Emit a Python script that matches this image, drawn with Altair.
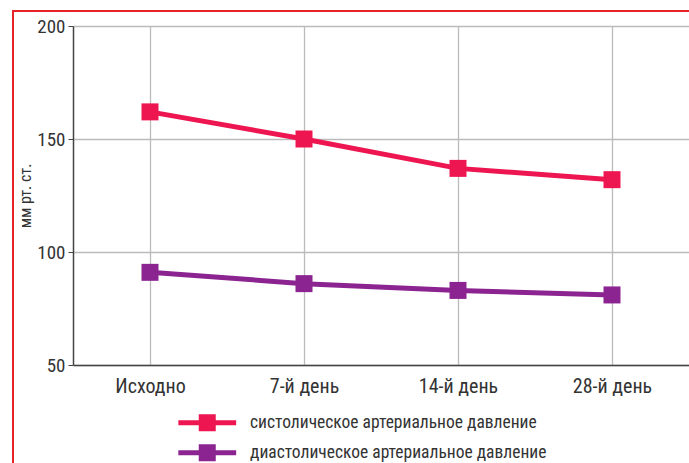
import altair as alt
import pandas as pd

# Measurement points and blood pressure readings (mm Hg)
days = ["Исходно", "7-й день", "14-й день", "28-й день"]
systolic = [162, 150, 137, 132]
diastolic = [91, 86, 83, 81]
series_names = ["систолическое артериальное давление", "диастолическое артериальное давление"]
series_colors = ["#EE1651", "#8B2490"]
y_ticks = [50, 100, 150, 200]

rows = []
for name, values in zip(series_names, [systolic, diastolic]):
    for d, v in zip(days, values):
        rows.append({"day": d, "value": v, "series": name})
df = pd.DataFrame(rows)

font = "'Roboto Condensed', 'DejaVu Sans Condensed', 'Open Sans Condensed', Roboto, sans-serif"

# legend glyph: a thick horizontal stroke with a square in the middle
legend_symbol = "M-1,-1H1V1H-1Z M-3.4,-0.3H3.4V0.3H-3.4Z"

x_enc = alt.X(
    "day:N",
    sort=days,
    scale=alt.Scale(type="point", padding=0.5),
    axis=alt.Axis(
        title=None, ticks=False, labelPadding=11, labelFontSize=20,
        labelFont=font, labelColor="#333333", labelAngle=0,
        grid=True, gridColor="#BBBBBB", gridWidth=1.3,
        domainColor="#444444", domainWidth=1.5,
    ),
)
y_enc = alt.Y(
    "value:Q",
    scale=alt.Scale(domain=[50, 200], nice=False, zero=False),
    axis=alt.Axis(
        title="мм рт. ст.", values=y_ticks, tickSize=5, tickColor="#444444",
        labelPadding=3, labelFontSize=19, labelFont=font, labelColor="#333333",
        titleFont=font, titleFontSize=16, titleFontWeight="normal",
        titleColor="#333333", titlePadding=3,
        grid=True, gridColor="#BBBBBB", gridWidth=1.3,
        domainColor="#444444", domainWidth=1.5,
    ),
)
color_enc = alt.Color(
    "series:N",
    scale=alt.Scale(domain=series_names, range=series_colors),
    legend=alt.Legend(
        title=None, orient="none", legendX=125.5, legendY=388,
        symbolType=legend_symbol, symbolSize=289, symbolStrokeWidth=0,
        symbolOpacity=1, labelOffset=34, rowPadding=11, padding=0,
        labelFont=font, labelFontSize=17.5, labelColor="#333333", labelLimit=400,
    ),
)

base = alt.Chart(df).encode(x=x_enc, y=y_enc, color=color_enc)
lines = base.mark_line(strokeWidth=5)
squares = base.mark_square(size=289, opacity=1, filled=True)

# red frame around the whole figure
frame = alt.Chart(alt.Data(values=[{"f": 1}])).mark_rect(
    fill=None, stroke="#E52329", strokeWidth=2
).encode(
    x=alt.value(-60), x2=alt.value(720), y=alt.value(-15), y2=alt.value(520)
)

chart = alt.layer(lines, squares, frame).properties(
    width=616, height=339,
    autosize=alt.AutoSizeParams(type="none"),
    padding={"left": 73, "top": 26, "right": 0, "bottom": 98},
).configure_view(strokeWidth=0).configure(background="white")

chart.save("out.html", embed_options={"renderer": "svg", "actions": False})
